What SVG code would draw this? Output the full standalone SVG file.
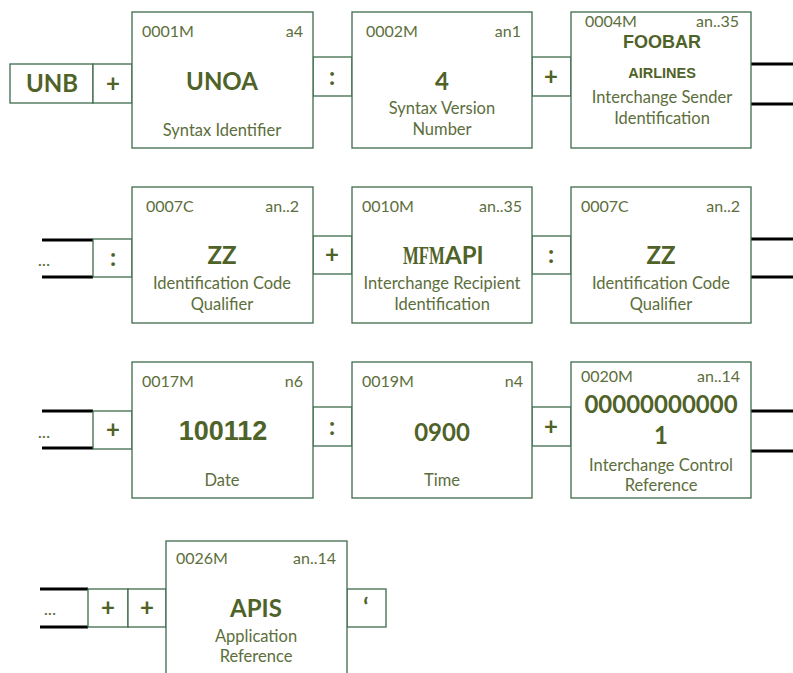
<svg xmlns="http://www.w3.org/2000/svg" width="793" height="673" viewBox="0 0 793 673">
<style>
.box{fill:#fff;stroke:#3d6b4a;stroke-width:1.3}
.sep{fill:#fff;stroke:#3d6b4a;stroke-width:1.3}
.code{font-family:Lato,"Open Sans",sans-serif;font-size:16px;fill:#5c6e3c}
.fmt{font-family:Lato,"Open Sans",sans-serif;font-size:16px;fill:#5c6e3c;text-anchor:end}
.val{font-family:Lato,"Open Sans",sans-serif;font-size:24px;font-weight:bold;fill:#4f6228;text-anchor:middle}
.ar{font-family:"Liberation Sans",Arial,sans-serif;font-weight:bold;fill:#4f6228;text-anchor:middle}
.desc{font-family:Lato,"Open Sans",sans-serif;font-size:16.5px;fill:#5c6e3c;text-anchor:middle}
.sym{font-family:Lato,"Open Sans",sans-serif;font-size:24px;font-weight:bold;fill:#4f6228;text-anchor:middle}
.dots{font-family:Lato,"Open Sans",sans-serif;font-size:18px;fill:#5c6e3c;text-anchor:middle}
.blk{stroke:#000;stroke-width:3;fill:none}
</style>

<g id="connectors">
  <line class="blk" x1="751" y1="64" x2="793" y2="64"/>
  <line class="blk" x1="751" y1="104" x2="793" y2="104"/>
  <line class="blk" x1="42" y1="240" x2="93" y2="240"/>
  <line class="blk" x1="42" y1="277" x2="93" y2="277"/>
  <line class="blk" x1="751" y1="239" x2="793" y2="239"/>
  <line class="blk" x1="751" y1="277" x2="793" y2="277"/>
  <line class="blk" x1="42" y1="411" x2="93" y2="411"/>
  <line class="blk" x1="42" y1="448" x2="93" y2="448"/>
  <line class="blk" x1="751" y1="411" x2="793" y2="411"/>
  <line class="blk" x1="751" y1="451" x2="793" y2="451"/>
  <line class="blk" x1="40" y1="589" x2="88" y2="589"/>
  <line class="blk" x1="40" y1="627" x2="88" y2="627"/>
</g>

<g id="sep-unb">
  <rect class="sep" x="10" y="64" width="83" height="39"/>
  <text class="val" x="52" y="92">UNB</text>
</g>
<g id="sep-r1-1"><rect class="sep" x="93" y="64" width="39" height="39"/><text class="sym" x="113" y="92">+</text></g>
<g id="sep-r1-2"><rect class="sep" x="313" y="57" width="39" height="39"/><text class="sym" x="332" y="85">:</text></g>
<g id="sep-r1-3"><rect class="sep" x="532" y="57" width="39" height="39"/><text class="sym" x="551" y="85">+</text></g>

<g id="n0001">
  <rect class="box" x="132" y="12" width="181" height="136"/>
  <text class="code" x="142" y="37">0001M</text>
  <text class="fmt" x="303" y="37">a4</text>
  <text class="val" x="222" y="90">UNOA</text>
  <text class="desc" x="222" y="136">Syntax Identifier</text>
</g>
<g id="n0002">
  <rect class="box" x="352" y="12" width="180" height="136"/>
  <text class="code" x="366" y="37">0002M</text>
  <text class="fmt" x="521" y="37">an1</text>
  <text class="val" x="442" y="90">4</text>
  <text class="desc" x="442" y="114">Syntax Version</text>
  <text class="desc" x="442" y="135">Number</text>
</g>
<g id="n0004">
  <rect class="box" x="571" y="12" width="180" height="136"/>
  <text class="code" x="585" y="27">0004M</text>
  <text class="fmt" x="739" y="27">an..35</text>
  <text class="ar" x="662" y="48" font-size="18">FOOBAR</text>
  <text class="ar" x="662" y="78" font-size="14.5">AIRLINES</text>
  <text class="desc" x="662" y="103">Interchange Sender</text>
  <text class="desc" x="662" y="124">Identification</text>
</g>

<g id="dots-r2"><text class="dots" x="44" y="266">...</text></g>
<g id="sep-r2-1"><rect class="sep" x="93" y="239" width="39" height="38"/><text class="sym" x="113" y="266">:</text></g>
<g id="sep-r2-2"><rect class="sep" x="313" y="236" width="39" height="38"/><text class="sym" x="332" y="263">+</text></g>
<g id="sep-r2-3"><rect class="sep" x="532" y="236" width="39" height="38"/><text class="sym" x="551" y="263">:</text></g>

<g id="n0007a">
  <rect class="box" x="132" y="187" width="181" height="136"/>
  <text class="code" x="146" y="212">0007C</text>
  <text class="fmt" x="299" y="212">an..2</text>
  <text class="val" x="222" y="264">ZZ</text>
  <text class="desc" x="222" y="289">Identification Code</text>
  <text class="desc" x="222" y="310">Qualifier</text>
</g>
<g id="n0010">
  <rect class="box" x="352" y="187" width="180" height="136"/>
  <text class="code" x="362" y="212">0010M</text>
  <text class="fmt" x="522" y="212">an..35</text>
  <text transform="translate(403,264) scale(0.67,1)" x="0" y="0" fill="#4f6228" font-size="25" font-family="'Liberation Serif',serif" font-weight="bold">MFM</text>
  <text x="445" y="264" fill="#4f6228" font-size="24" font-family="Lato,sans-serif" font-weight="bold">API</text>
  <text class="desc" x="442" y="289">Interchange Recipient</text>
  <text class="desc" x="442" y="310">Identification</text>
</g>
<g id="n0007b">
  <rect class="box" x="571" y="187" width="180" height="136"/>
  <text class="code" x="581" y="212">0007C</text>
  <text class="fmt" x="740" y="212">an..2</text>
  <text class="val" x="661" y="264">ZZ</text>
  <text class="desc" x="661" y="289">Identification Code</text>
  <text class="desc" x="661" y="310">Qualifier</text>
</g>

<g id="dots-r3"><text class="dots" x="44" y="438">...</text></g>
<g id="sep-r3-1"><rect class="sep" x="93" y="411" width="39" height="38"/><text class="sym" x="113" y="438">+</text></g>
<g id="sep-r3-2"><rect class="sep" x="313" y="407" width="39" height="39"/><text class="sym" x="332" y="435">:</text></g>
<g id="sep-r3-3"><rect class="sep" x="532" y="407" width="39" height="39"/><text class="sym" x="551" y="435">+</text></g>

<g id="n0017">
  <rect class="box" x="132" y="362" width="181" height="136"/>
  <text class="code" x="142" y="387">0017M</text>
  <text class="fmt" x="303" y="387">n6</text>
  <text class="ar" x="223" y="440" font-size="27">100112</text>
  <text class="desc" x="222" y="486">Date</text>
</g>
<g id="n0019">
  <rect class="box" x="352" y="362" width="180" height="136"/>
  <text class="code" x="362" y="387">0019M</text>
  <text class="fmt" x="523" y="387">n4</text>
  <text class="val" x="442" y="441" font-size="23">0900</text>
  <text class="desc" x="442" y="486">Time</text>
</g>
<g id="n0020">
  <rect class="box" x="571" y="362" width="180" height="136"/>
  <text class="code" x="581" y="382">0020M</text>
  <text class="fmt" x="740" y="382">an..14</text>
  <text class="val" x="661" y="413" font-size="23">00000000000</text>
  <text class="val" x="661" y="444" font-size="23">1</text>
  <text class="desc" x="661" y="471">Interchange Control</text>
  <text class="desc" x="661" y="491">Reference</text>
</g>

<g id="dots-r4"><text class="dots" x="50" y="615">...</text></g>
<g id="sep-r4-1"><rect class="sep" x="88" y="589" width="40" height="38"/><text class="sym" x="108" y="616">+</text></g>
<g id="sep-r4-2"><rect class="sep" x="128" y="589" width="38" height="38"/><text class="sym" x="147" y="616">+</text></g>
<g id="sep-r4-3"><rect class="sep" x="347" y="589" width="39" height="38"/><text class="sym" x="366" y="616">‘</text></g>

<g id="n0026">
  <rect class="box" x="166" y="541" width="181" height="140"/>
  <text class="code" x="176" y="564">0026M</text>
  <text class="fmt" x="336" y="564">an..14</text>
  <text class="val" x="256" y="617">APIS</text>
  <text class="desc" x="256" y="642">Application</text>
  <text class="desc" x="256" y="662">Reference</text>
</g>
</svg>
